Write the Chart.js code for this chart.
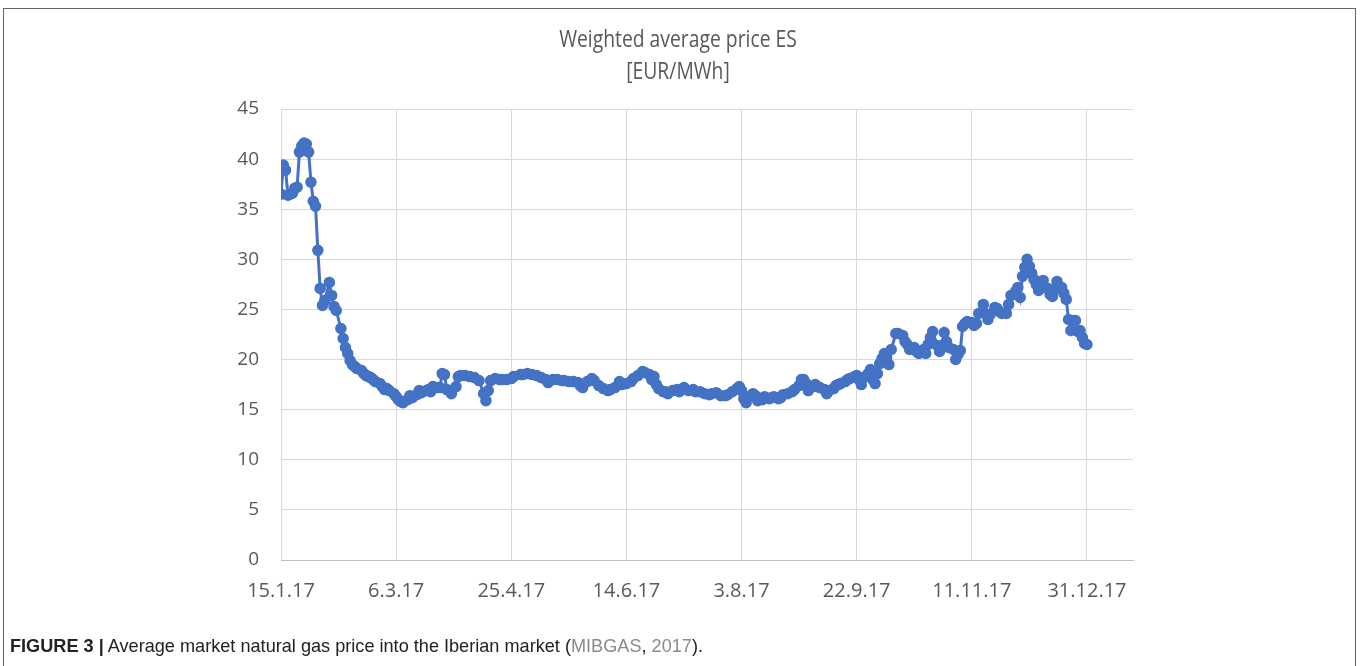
<!DOCTYPE html>
<html>
<head>
<meta charset="utf-8">
<script src="https://cdn.jsdelivr.net/npm/chart.js@4.4.1/dist/chart.umd.min.js"></script>
<style>
  body { margin: 0; background: #fff; }
  #frame { position: absolute; left: 3px; top: 8px; width: 1353px; height: 700px; border: 1px solid #666; box-sizing: border-box; }
  #c { position: absolute; left: 0; top: 0; }
  #caption { position: absolute; left: 10px; top: 635px; font-family: "Liberation Sans", sans-serif; font-size: 18.6px; color: #222; white-space: nowrap; transform-origin: 0 0; transform: scaleX(0.975); }
  #caption b { font-weight: bold; }
  #caption .ref { color: #8a8a8a; }
</style>
</head>
<body>
<div id="frame"></div>
<canvas id="c" width="1360" height="666"></canvas>
<div id="caption"><b>FIGURE 3 |</b> Average market natural gas price into the Iberian market (<span class="ref">MIBGAS</span>, <span class="ref">2017</span>).</div>
<script>
// days counted from 15.1.17
var days = [0,1,2,3,4,5,6,7,8,9,10,11,12,13,14,15,16,17,18,19,21,22,23,24,26,27,28,29,30,31,32,33,35,36,37,38,39,40,41,43,44,45,46,47,49,50,51,52,53,55,56,57,59,60,61,63,64,65,66,68,69,70,71,72,74,76,77,78,80,82,84,86,88,89,90,91,93,95,96,98,100,101,104,105,107,109,111,113,115,116,118,120,122,123,125,127,129,130,131,133,135,136,138,140,142,143,145,147,148,150,152,153,155,157,158,160,161,162,163,164,166,167,168,170,172,173,175,177,179,180,182,184,186,187,189,191,193,194,196,198,199,200,201,202,203,205,206,207,209,210,212,213,214,216,217,218,220,222,223,225,226,227,228,229,230,232,233,234,236,237,238,240,241,242,243,245,246,247,249,250,251,252,253,255,256,257,258,259,260,261,262,263,264,265,267,268,270,271,272,273,275,276,277,279,280,281,282,283,285,286,287,288,289,290,292,293,294,295,296,297,298,300,301,302,303,305,306,307,308,310,311,312,313,315,316,317,319,320,321,322,323,324,325,326,327,328,329,330,331,333,334,335,336,337,339,340,341,342,343,344,345,346,347,348,349,350];
var prices = [36.5,39.4,38.9,36.4,36.5,36.6,37.1,37.2,40.7,41.3,41.6,41.5,40.7,37.7,35.8,35.3,30.9,27.1,25.4,25.9,27.7,26.4,25.3,24.9,23.1,22.1,21.2,20.6,19.9,19.5,19.3,19.1,18.9,18.6,18.4,18.3,18.2,18.0,17.8,17.6,17.3,17.0,17.1,16.9,16.6,16.3,16.0,15.8,15.7,16.0,16.4,16.2,16.5,16.9,16.7,16.9,17.0,16.8,17.3,17.2,17.2,18.6,18.5,17.0,16.6,17.3,18.3,18.4,18.4,18.3,18.2,17.9,16.6,15.9,16.9,17.9,18.1,18.0,18.0,18.0,18.1,18.3,18.5,18.5,18.6,18.5,18.4,18.2,18.0,17.7,18.0,18.0,17.9,17.9,17.8,17.8,17.7,17.4,17.2,17.8,18.1,17.9,17.4,17.1,16.9,17.0,17.2,17.8,17.5,17.6,17.8,18.1,18.4,18.8,18.7,18.5,18.0,18.3,17.5,17.1,16.8,16.8,16.6,16.9,17.0,16.8,17.2,16.9,17.0,16.8,16.8,16.6,16.5,16.6,16.7,16.4,16.4,16.5,16.8,17.1,17.3,16.9,16.1,15.7,16.3,16.6,16.4,15.9,16.0,16.3,16.1,16.2,16.3,16.1,16.2,16.5,16.6,16.8,17.0,17.4,18.0,18.0,17.6,16.9,17.2,17.5,17.3,17.2,17.0,16.6,16.9,17.1,17.4,17.5,17.6,17.8,18.0,18.1,18.3,18.4,18.0,17.5,18.2,18.6,19.0,18.0,17.6,18.6,19.6,20.1,20.6,20.2,19.5,21.0,22.6,22.6,22.4,21.8,21.5,21.0,21.2,20.8,20.6,21.0,20.6,21.5,22.2,22.8,21.4,20.8,21.4,22.7,21.8,21.2,21.0,20.0,20.5,20.9,23.3,23.6,23.8,23.7,23.4,23.6,24.6,25.5,24.6,24.0,24.5,25.2,25.1,24.8,24.6,24.6,25.5,26.4,26.8,27.2,26.2,28.3,29.2,30.0,29.3,28.6,28.0,27.5,26.9,27.2,27.9,27.1,26.5,26.3,27.0,27.8,27.2,26.6,26.0,24.0,22.9,23.9,23.9,22.8,22.9,22.2,21.6,21.5];
var xTickLabels = ["15.1.17", "6.3.17", "25.4.17", "14.6.17", "3.8.17", "22.9.17", "11.11.17", "31.12.17"];
var yTicks = [0, 5, 10, 15, 20, 25, 30, 35, 40, 45];
var titleLines = ['Weighted average price ES', '[EUR/MWh]'];

var points = days.map(function (d, i) { return { x: d, y: prices[i] }; });
var blue = '#4472c4';
var grey = '#595959';

// narrow two-line title, drawn like the Excel (Calibri) one
var chartTitle = {
  id: 'chartTitle',
  afterDraw: function (chart) {
    var ctx = chart.ctx;
    ctx.save();
    ctx.fillStyle = grey;
    ctx.font = '23px "Open Sans"';
    ctx.textAlign = 'center';
    ctx.textBaseline = 'middle';
    var cx = 678;
    [40, 72].forEach(function (y, i) {
      ctx.save();
      ctx.translate(cx, y);
      ctx.scale(0.84, 1);
      ctx.fillText(titleLines[i], 0, 0);
      ctx.restore();
    });
    ctx.restore();
  }
};

new Chart(document.getElementById('c'), {
  type: 'line',
  data: {
    datasets: [{
      label: titleLines[0],
      data: points,
      borderColor: blue,
      backgroundColor: blue,
      borderWidth: 3,
      pointRadius: 5,
      pointBorderWidth: 1.5,
      pointBackgroundColor: blue,
      pointBorderColor: blue,
      tension: 0
    }]
  },
  plugins: [chartTitle],
  options: {
    responsive: false,
    animation: false,
    devicePixelRatio: 1,
    layout: { padding: { left: 200, right: 227, top: 109, bottom: 46 } },
    plugins: {
      legend: { display: false },
      tooltip: { enabled: false },
      title: { display: false }
    },
    scales: {
      x: {
        type: 'linear',
        min: 0,
        max: 370,
        afterBuildTicks: function (scale) {
          scale.ticks = xTickLabels.map(function (t, i) { return { value: i * 50 }; });
        },
        afterFit: function (scale) { scale.height = 60; },
        ticks: {
          color: grey,
          font: { family: 'Open Sans', size: 20 },
          padding: 19,
          maxRotation: 0,
          autoSkip: false,
          callback: function (v) { return xTickLabels[v / 50]; }
        },
        grid: { color: '#d9d9d9', drawTicks: false },
        border: { color: '#bfbfbf', width: 1 }
      },
      y: {
        min: 0,
        max: 45,
        afterBuildTicks: function (scale) {
          scale.ticks = yTicks.map(function (v) { return { value: v }; });
        },
        afterFit: function (scale) { scale.width = 81; },
        ticks: {
          color: grey,
          font: { family: 'Open Sans', size: 19 },
          padding: 22
        },
        grid: { color: '#d9d9d9', drawTicks: false },
        border: { display: false }
      }
    }
  }
});
</script>
</body>
</html>
